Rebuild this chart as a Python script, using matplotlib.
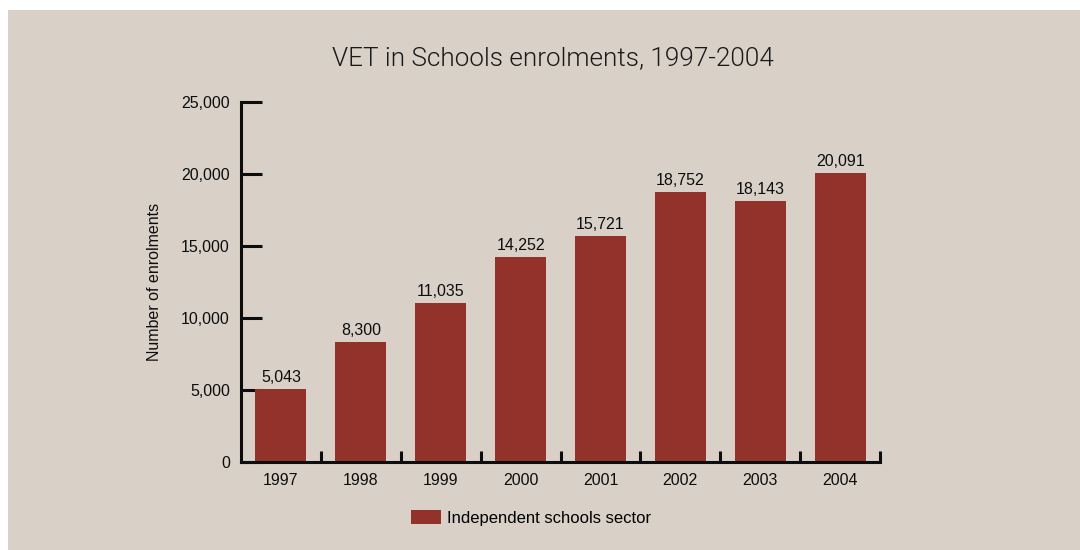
import numpy as np
import matplotlib.pyplot as plt
from matplotlib.patches import Rectangle

years = ['1997', '1998', '1999', '2000', '2001', '2002', '2003', '2004']
enrolments = [5043, 8300, 11035, 14252, 15721, 18752, 18143, 20091]
series_name = 'Independent schools sector'

bg = '#d9d1c7'
bar_col = '#93322a'
ink = '#0d0d0d'

plt.rcParams['font.family'] = ['Liberation Sans', 'DejaVu Sans']

fig = plt.figure(figsize=(10.8, 5.5), dpi=100)
fig.patch.set_facecolor('white')
# beige panel (white margin on the top and left edges)
fig.patches.append(Rectangle((8 / 1080, 0), 1 - 8 / 1080, 1 - 10 / 550,
                             transform=fig.transFigure, facecolor=bg,
                             edgecolor='none', zorder=-10))

ax = fig.add_axes([241 / 1080, 1 - 462 / 550, 639 / 1080, 360 / 550])
ax.set_facecolor('none')

x = np.arange(len(years))
bars = ax.bar(x, enrolments, width=0.64, color=bar_col, label=series_name, zorder=2)

for xi, v in zip(x, enrolments):
    ax.text(xi, v + 280, f'{v:,}', ha='center', va='bottom', fontsize=11.5, color=ink)

ax.set_xlim(-0.5, len(years) - 0.5)
ax.set_ylim(0, 25000)

ax.set_yticks(np.arange(0, 25001, 5000))
ax.set_yticklabels([f'{t:,}' for t in range(0, 25001, 5000)])
ax.tick_params(axis='y', direction='in', length=15, width=2.2, pad=8,
               labelsize=11.5, colors=ink)

# boundary ticks (no labels) and centred labels
ax.set_xticks(np.arange(0.5, len(years) - 0.5 + 0.01, 1.0))
ax.set_xticklabels([])
ax.set_xticks(x, minor=True)
ax.set_xticklabels(years, minor=True)
ax.tick_params(axis='x', which='major', direction='in', length=8, width=2.2, colors=ink)
ax.tick_params(axis='x', which='minor', length=0, pad=8, labelsize=11.5, colors=ink)

for s in ['top', 'right']:
    ax.spines[s].set_visible(False)
for s in ['left', 'bottom']:
    ax.spines[s].set_linewidth(2.2)
    ax.spines[s].set_color(ink)

ax.set_ylabel('Number of enrolments', fontsize=11.5, labelpad=14, color=ink)

fig.text(553 / 1080, 1 - 58 / 550, 'VET in Schools enrolments, 1997-2004',
         ha='center', va='center', fontsize=18.8, fontweight=300,
         family=['Roboto', 'DejaVu Sans'], color='#1a1a1a')

fig.legend(handles=[bars], labels=[series_name], loc='center',
           bbox_to_anchor=(531 / 1080, 1 - 518 / 550), frameon=False,
           fontsize=12, handlelength=1.8, handleheight=0.9, handletextpad=0.35)

fig.savefig('out.png', dpi=100, facecolor=fig.get_facecolor())
